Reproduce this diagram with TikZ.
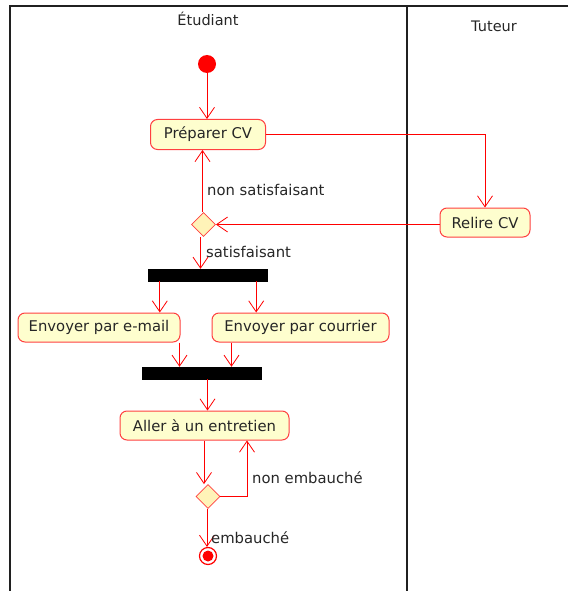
\documentclass[tikz,border=0pt]{standalone}
\usepackage{fontspec}
\setmainfont{DejaVu Sans}
\usetikzlibrary{arrows.meta,shapes.geometric,calc}
\definecolor{actfill}{HTML}{FEFECE}
\definecolor{diafill}{HTML}{FFF3B8}
\definecolor{actborder}{HTML}{FF4040}
\definecolor{lanecol}{HTML}{202020}
\tikzset{
  act/.style={draw=actborder, fill=actfill, rounded corners=7pt, line width=1pt,
    inner sep=0pt, font=\fontsize{14.8}{16}\selectfont, text=black!85},
  decision/.style={draw=actborder, fill=diafill, diamond, aspect=1, inner sep=0pt,
    minimum width=24pt, minimum height=24pt, line width=0.8pt},
  bar/.style={fill=black, draw=black, inner sep=0pt},
  arr/.style={draw=red, line width=0.9pt, -{Straight Barb[length=11pt,width=15pt,line width=0.8pt]}},
  lbl/.style={font=\fontsize{14.8}{16}\selectfont, text=black!85, anchor=west, inner sep=0pt},
  lane/.style={draw=lanecol, line width=2pt},
  title/.style={font=\fontsize{14.5}{16}\selectfont, text=black!85, inner sep=0pt},
}
\begin{document}
\begin{tikzpicture}[x=1pt, y=-1pt]
\useasboundingbox (0,0) rectangle (568,591);
% swimlanes
\draw[lane] (568,6) -- (9.5,6) -- (9.5,591);
\draw[lane] (407,6) -- (407,591);
\node[title] (t1) at (208,19) {Étudiant};
\node[title] (t2) at (494,26) {Tuteur};
% nodes
\node[circle, fill=red, minimum size=18pt, inner sep=0pt] (start) at (207,64) {};
\node[act, minimum width=115pt, minimum height=30pt] (prep) at (208,134.5) {Préparer CV};
\node[act, minimum width=90pt, minimum height=29pt] (relire) at (485,222.5) {Relire CV};
\node[decision] (d1) at (203.5,224.5) {};
\node[bar, minimum width=119pt, minimum height=12pt] (bar1) at (207.5,275) {};
\node[act, minimum width=162pt, minimum height=29pt] (email) at (99,327.5) {Envoyer par e-mail};
\node[act, minimum width=177pt, minimum height=29pt] (courrier) at (300.5,327.5) {Envoyer par courrier};
\node[bar, minimum width=119pt, minimum height=12pt] (bar2) at (201.5,373) {};
\node[act, minimum width=169pt, minimum height=29pt] (aller) at (204.5,425.5) {Aller à un entretien};
\node[decision] (d2) at (208,496.5) {};
\node[circle, draw=red, line width=1.2pt, fill=white, minimum size=17pt, inner sep=0pt] (end) at (208,556) {};
\node[circle, fill=red, minimum size=11pt, inner sep=0pt] (endin) at (end) {};
% edges
\draw[arr] (start) -- (start |- prep.north);
\draw[arr] (prep.east) -| (relire.north);
\draw[arr] (relire.west |- d1.east) -- (d1.east);
\draw[arr] ([xshift=-1pt]d1.north) -- ([xshift=-1pt]d1.north |- prep.south);
\node[lbl] (l1) at (207,190) {non satisfaisant};
\draw[arr] ([xshift=-3pt]d1.south) -- ([xshift=-3pt]d1.south |- bar1.north);
\node[lbl] (l2) at (206,252) {satisfaisant};
\draw[arr] ([xshift=12pt]bar1.south west) -- ([xshift=12pt]bar1.south west |- email.north);
\draw[arr] ([xshift=-11pt]bar1.south east) -- ([xshift=-11pt]bar1.south east |- courrier.north);
\draw[arr] ([xshift=-1pt]email.south east) -- ([xshift=-1pt]email.south east |- bar2.north);
\draw[arr] ([xshift=20pt]courrier.south west) -- ([xshift=20pt]courrier.south west |- bar2.north);
\draw[arr] ([xshift=6pt]bar2.south) -- ([xshift=6pt]bar2.south |- aller.north);
\draw[arr] ([xshift=-4pt]d2.north |- aller.south) -- ([xshift=-4pt]d2.north);
\draw[arr] (d2.east) -| ([xshift=42.5pt]aller.south);
\node[lbl] (l3) at (252,478) {non embauché};
\draw[arr] ([xshift=-1pt]d2.south) -- ([xshift=-1pt]d2.south |- end.north);
\node[lbl] (l4) at (211,538) {embauché};
\end{tikzpicture}
\end{document}
